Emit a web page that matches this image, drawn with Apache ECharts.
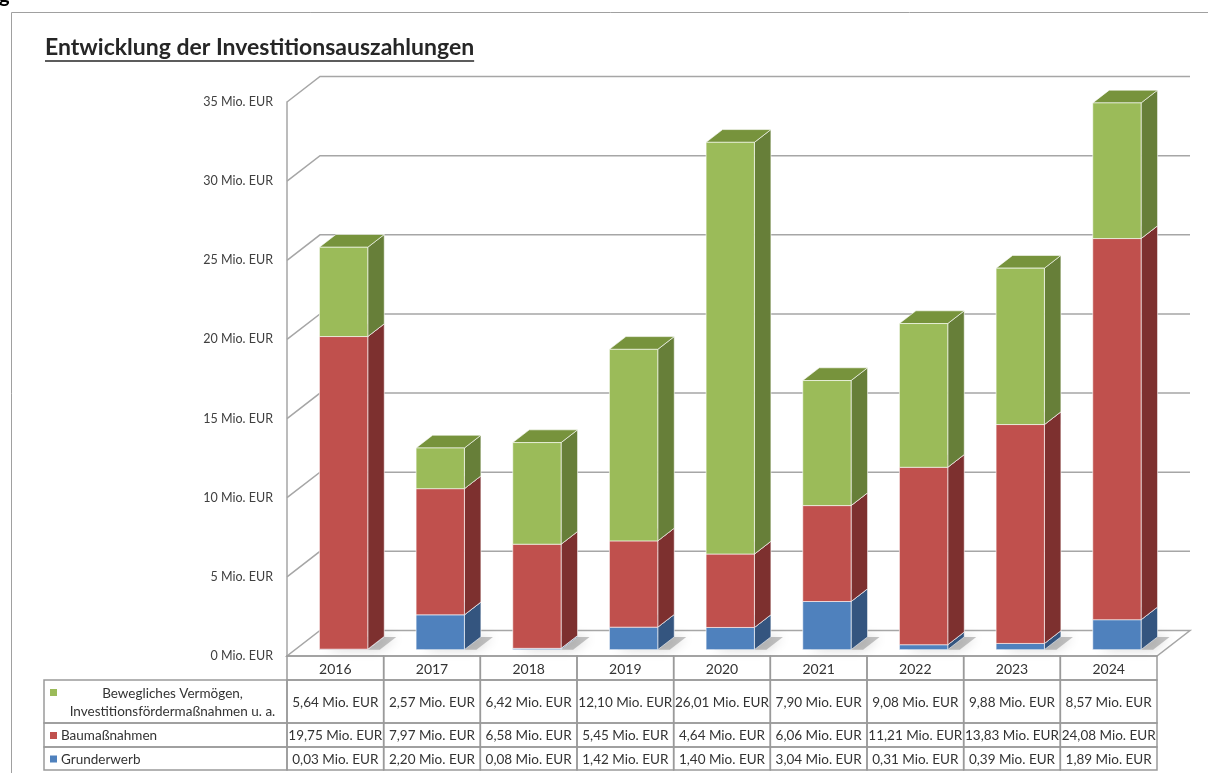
<!DOCTYPE html>
<html><head><meta charset="utf-8">
<script src="https://cdn.jsdelivr.net/npm/echarts@6/dist/echarts.min.js"></script>
<style>html,body{margin:0;padding:0;background:#fff}#c{width:1208px;height:773px}</style>
</head><body><div id="c"></div>
<script>
// ---------- data ----------
const titleText = 'Entwicklung der Investitionsauszahlungen';
const categories = ['2016','2017','2018','2019','2020','2021','2022','2023','2024'];
const grunderwerb   = [0.03, 2.20, 0.08, 1.42, 1.40, 3.04, 0.31, 0.39, 1.89];
const baumassnahmen = [19.75, 7.97, 6.58, 5.45, 4.64, 6.06, 11.21, 13.83, 24.08];
const beweglich     = [5.64, 2.57, 6.42, 12.10, 26.01, 7.90, 9.08, 9.88, 8.57];
const seriesNames = ['Bewegliches Vermögen,\nInvestitionsfördermaßnahmen u. a.', 'Baumaßnahmen', 'Grunderwerb'];
const yTicks = [0, 5, 10, 15, 20, 25, 30, 35];
const unit = ' Mio. EUR';

// ---------- style ----------
const FONT = 'Lato';
const DEPTH = [33, -25.5];
const GRIDC = '#A6A6A6';
const TABLEC = '#9A9A9A';
const TXT = '#333333';
const ROW_H = [24, 43, 24, 23];
const LEG_LEFT = 44;

const layers = [
  {name: seriesNames[2], values: grunderwerb,   front: '#4F81BD', side: '#34557F', top: '#4372A8'},
  {name: seriesNames[1], values: baumassnahmen, front: '#C0504D', side: '#7D302F', top: '#A0403D'},
  {name: seriesNames[0], values: beweglich,     front: '#9BBB59', side: '#677F39', top: '#77933C'}
];
const tableRows = [
  {values: beweglich, color: '#9BBB59'},
  {values: baumassnahmen, color: '#C0504D'},
  {values: grunderwerb, color: '#4F81BD'}
];

function fmt(v) { return v.toFixed(2).replace('.', ',') + unit; }

function renderBar(params, api, L) {
  const i = api.value(0), lo = api.value(1), hi = api.value(2);
  const pb = api.coord([i, lo]), pt = api.coord([i, hi]);
  const bw = api.size([1, 0])[0];
  const w = bw * 0.5;
  const ox = DEPTH[0] * 0.25, oy = DEPTH[1] * 0.25;
  const dx = DEPTH[0] * 0.5, dy = DEPTH[1] * 0.5;
  const x0 = pb[0] - w / 2 + ox, x1 = x0 + w, yb = pb[1] + oy, yt = pt[1] + oy;
  const edge = {stroke: 'rgba(255,255,255,0.6)', lineWidth: 1};
  return {type: 'group', children: [
    {type: 'polygon', shape: {points: [[x1, yb], [x1 + dx, yb + dy], [x1 + dx, yt + dy], [x1, yt]]}, style: Object.assign({fill: L.side}, edge)},
    {type: 'polygon', shape: {points: [[x0, yt], [x1, yt], [x1 + dx, yt + dy], [x0 + dx, yt + dy]]}, style: Object.assign({fill: L.top}, edge)},
    {type: 'rect', shape: {x: x0, y: yt, width: w, height: yb - yt}, style: Object.assign({fill: L.front}, edge)}
  ]};
}

function renderShadow(params, api) {
  const i = api.value(0);
  const pb = api.coord([i, 0]);
  const bw = api.size([1, 0])[0];
  const w = bw * 0.5;
  const ox = DEPTH[0] * 0.25, oy = DEPTH[1] * 0.25;
  const dx = DEPTH[0] * 0.5, dy = DEPTH[1] * 0.5;
  const x0 = pb[0] - w / 2 + ox + 8, x1 = x0 + w + 4, yb = pb[1] + oy;
  return {type: 'polygon', shape: {points: [[x0, yb], [x1, yb], [x1 + dx, yb + dy], [x0 + dx, yb + dy]]},
    style: {fill: 'rgba(110,110,110,0.4)', shadowBlur: 12, shadowColor: 'rgba(0,0,0,0.4)'}};
}

function renderGrid(params, api) {
  const v = api.value(1);
  const cs = params.coordSys;
  const y = api.coord([0, v])[1];
  const L = cs.x, R = cs.x + cs.width;
  const children = [];
  if (v === yTicks[0]) {
    children.push({type: 'polygon', shape: {points: [[L, y], [R, y], [R + DEPTH[0], y + DEPTH[1]], [L + DEPTH[0], y + DEPTH[1]]]},
      style: {fill: '#fff', stroke: GRIDC, lineWidth: 1.5}});
  } else {
    children.push({type: 'polyline', shape: {points: [[L, y], [L + DEPTH[0], y + DEPTH[1]], [R + DEPTH[0], y + DEPTH[1]]]},
      style: {fill: null, stroke: GRIDC, lineWidth: 1.5}});
  }
  return {type: 'group', children};
}

function renderTable(params, api) {
  const i = api.value(0);
  const cs = params.coordSys;
  const c = api.coord([i, 0]);
  const bw = api.size([1, 0])[0];
  const x0 = c[0] - bw / 2;
  let y = cs.y + cs.height;
  const children = [];
  const texts = [categories[i]].concat(tableRows.map(r => fmt(r.values[i])));
  ROW_H.forEach((h, r) => {
    children.push({type: 'rect', shape: {x: x0, y: y, width: bw, height: h},
      style: {fill: 'none', stroke: TABLEC, lineWidth: 1.5}});
    children.push({type: 'text', x: c[0], y: y + h / 2 + 1,
      style: {text: texts[r], fill: TXT, font: (r === 0 ? '14px ' : '13.5px ') + FONT, align: 'center', verticalAlign: 'middle'}});
    y += h;
  });
  return {type: 'group', children};
}

const chart = echarts.init(document.getElementById('c'));
const GRID = {left: 287, right: 51, top: 102, bottom: 117};

const base = categories.map(() => 0);
const barSeries = layers.map(L => {
  const data = L.values.map((v, i) => { const lo = base[i]; base[i] += v; return [i, lo, lo + v]; });
  return {type: 'custom', name: L.name, coordinateSystem: 'cartesian2d', encode: {x: 0, y: [1, 2]},
    data, clip: false, z: 4, renderItem: (p, a) => renderBar(p, a, L)};
});

// legend column & title
const gTop = 773 - GRID.bottom;
const legW = GRID.left - LEG_LEFT;
const graphics = [];
graphics.push({type: 'rect', left: 9, top: 10, silent: true,
  shape: {x: 0.5, y: 0.5, width: 1300, height: 900}, style: {fill: 'none', stroke: '#A0A0A0', lineWidth: 1}});
graphics.push({type: 'text', x: -1, y: -14, style: {text: 'g', font: 'bold 20px ' + FONT, fill: '#000'}});
const ctx = document.createElement('canvas').getContext('2d');
ctx.font = 'bold 23px ' + FONT;
const tW = ctx.measureText(titleText).width;
graphics.push({type: 'text', x: 45, y: 48, style: {text: titleText, font: 'bold 23px ' + FONT, fill: '#262626', verticalAlign: 'middle'}});
graphics.push({type: 'line', shape: {x1: 45, y1: 61, x2: 45 + tW, y2: 61}, style: {stroke: '#262626', lineWidth: 1.6}});
let ry = gTop + ROW_H[0];
tableRows.forEach((r, k) => {
  const h = ROW_H[k + 1];
  graphics.push({type: 'rect', shape: {x: LEG_LEFT, y: ry, width: legW, height: h}, style: {fill: 'none', stroke: TABLEC, lineWidth: 1.5}});
  const name = seriesNames[k];
  if (k === 0) {
    graphics.push({type: 'rect', shape: {x: 50, y: ry + 9, width: 7, height: 7}, style: {fill: r.color}});
    graphics.push({type: 'text', x: (58 + GRID.left) / 2, y: ry + h / 2 + 1,
      style: {text: name, font: '13.5px ' + FONT, fill: TXT, align: 'center', verticalAlign: 'middle', lineHeight: 18}});
  } else {
    graphics.push({type: 'rect', shape: {x: 50, y: ry + h / 2 - 3, width: 7, height: 7}, style: {fill: r.color}});
    graphics.push({type: 'text', x: 61, y: ry + h / 2 + 1,
      style: {text: name, font: '13.5px ' + FONT, fill: TXT, align: 'left', verticalAlign: 'middle'}});
  }
  ry += h;
});

chart.setOption({
  animation: false,
  backgroundColor: '#fff',
  grid: GRID,
  xAxis: {type: 'category', data: categories, boundaryGap: true,
    axisLine: {show: false}, axisTick: {show: false}, axisLabel: {show: false}, splitLine: {show: false}},
  yAxis: {type: 'value', min: yTicks[0], max: yTicks[yTicks.length - 1], interval: yTicks[1] - yTicks[0],
    axisLine: {show: true, lineStyle: {color: GRIDC, width: 1.5}}, axisTick: {show: false}, splitLine: {show: false},
    axisLabel: {formatter: v => v + unit, color: '#404040', fontFamily: FONT, fontSize: 12.5, margin: 14}},
  graphic: graphics,
  series: [
    {type: 'custom', coordinateSystem: 'cartesian2d', encode: {x: 0, y: 1}, data: yTicks.map(v => [0, v]),
      clip: false, z: 1, silent: true, renderItem: renderGrid},
    {type: 'custom', coordinateSystem: 'cartesian2d', encode: {x: 0, y: 1}, data: categories.map((c, i) => [i, 0]),
      clip: false, z: 2, silent: true, renderItem: renderShadow},
    {type: 'custom', coordinateSystem: 'cartesian2d', encode: {x: 0, y: 1}, data: categories.map((c, i) => [i, 0]),
      clip: false, z: 3, silent: true, renderItem: renderTable}
  ].concat(barSeries)
});
</script></body></html>
